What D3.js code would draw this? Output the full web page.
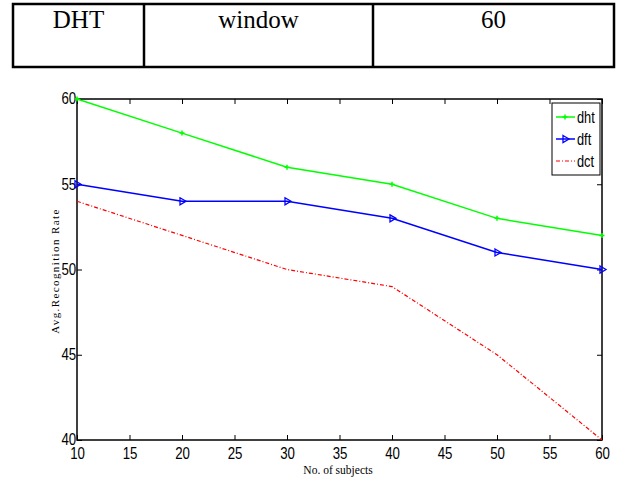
<!DOCTYPE html>
<html>
<head>
<meta charset="utf-8">
<script src="https://cdn.jsdelivr.net/npm/d3@7"></script>
<style>
  body { margin: 0; background: #fff; }
  svg { display: block; }
</style>
</head>
<body>
<svg id="chart" width="624" height="483"></svg>
<script>
// table row above the chart
let tableCells = ["DHT", "window", "60"]

// chart data
let subjects = [10, 20, 30, 40, 50, 60]
let dhtValues = [60, 58, 56, 55, 53, 52]
let dftValues = [55, 54, 54, 53, 51, 50]
let dctValues = [54, 52, 50, 49, 45, 40]
let xTicks = [10, 15, 20, 25, 30, 35, 40, 45, 50, 55, 60]
let yTicks = [40, 45, 50, 55, 60]
let seriesNames = ["dht", "dft", "dct"]

let svg = d3.select("#chart")
let serifFont = "Liberation Serif, DejaVu Serif, Times New Roman, serif"
let tickFont = "Liberation Sans, Arial, sans-serif"

/* table */
let colEdges = [13, 144, 373, 614]
let table = svg.append("g")
table.append("rect")
     .attr("x", colEdges[0]).attr("y", 4)
     .attr("width", colEdges[3] - colEdges[0]).attr("height", 63)
     .attr("fill", "none").attr("stroke", "#000").attr("stroke-width", 2.5)
table.selectAll("line.div")
     .data(colEdges.slice(1, 3))
     .enter().append("line")
     .attr("x1", d => d).attr("x2", d => d)
     .attr("y1", 4).attr("y2", 67)
     .attr("stroke", "#000").attr("stroke-width", 2.5)
table.selectAll("text")
     .data(tableCells)
     .enter().append("text")
     .attr("x", (d, i) => (colEdges[i] + colEdges[i + 1]) / 2)
     .attr("y", 28)
     .attr("text-anchor", "middle")
     .attr("font-family", serifFont)
     .attr("font-size", 25)
     .text(d => d)

/* plot */
let plotL = 77, plotR = 602, plotT = 99, plotB = 440
let x = d3.scaleLinear().domain([10, 60]).range([plotL, plotR])
let y = d3.scaleLinear().domain([40, 60]).range([plotB, plotT])

// box
svg.append("rect")
   .attr("x", plotL).attr("y", plotT)
   .attr("width", plotR - plotL).attr("height", plotB - plotT)
   .attr("fill", "none").attr("stroke", "#000").attr("stroke-width", 1.5)

let xAxis = svg.append("g")
               .attr("transform", `translate(0,${plotB})`)
               .call(d3.axisBottom(x).tickValues(xTicks).tickSizeInner(-5).tickSizeOuter(0).tickPadding(7))
let xAxisTop = svg.append("g")
                  .attr("transform", `translate(0,${plotT})`)
                  .call(d3.axisTop(x).tickValues(xTicks).tickSizeInner(-5).tickSizeOuter(0).tickFormat(""))
let yAxis = svg.append("g")
               .attr("transform", `translate(${plotL},0)`)
               .call(d3.axisLeft(y).tickValues(yTicks).tickSizeInner(-5).tickSizeOuter(0).tickPadding(1))
let yAxisRight = svg.append("g")
                    .attr("transform", `translate(${plotR},0)`)
                    .call(d3.axisRight(y).tickValues(yTicks).tickSizeInner(-5).tickSizeOuter(0).tickFormat(""))

svg.selectAll(".domain").remove()
svg.selectAll(".tick line").attr("stroke", "#000").attr("stroke-width", 1)
svg.selectAll(".tick text")
   .attr("font-family", tickFont)
   .attr("font-size", 17)
   .attr("fill", "#000")
   .attr("transform", "scale(0.78,1)")
yAxis.selectAll(".tick text").attr("dy", "0.28em")

// axis titles
svg.append("text")
   .attr("x", 338).attr("y", 474)
   .attr("text-anchor", "middle")
   .attr("font-family", serifFont)
   .attr("font-size", 11.5)
   .text("No. of subjects")
svg.append("text")
   .attr("transform", "translate(59,271) rotate(-90)")
   .attr("text-anchor", "middle")
   .attr("font-family", serifFont)
   .attr("font-size", 11)
   .attr("letter-spacing", 1.4)
   .text("Avg.Recognition Rate")

/* series */
let series = [
    {name: seriesNames[0], values: dhtValues, color: "#00ff00", dash: null, width: 1.5, marker: "plus"},
    {name: seriesNames[1], values: dftValues, color: "#0000ff", dash: null, width: 1.5, marker: "tri"},
    {name: seriesNames[2], values: dctValues, color: "#ff0000", dash: "4,2,1,2", width: 1.2, marker: null}
]

let line = d3.line()
             .x(d => x(d.s))
             .y(d => y(d.v))

function drawMarker(g, type, color, cx, cy) {
    if (type === "plus") {
        g.append("path")
         .attr("d", `M${cx - 2.5},${cy}H${cx + 2.5}M${cx},${cy - 2.5}V${cy + 2.5}`)
         .attr("stroke", color).attr("stroke-width", 1.5)
    } else if (type === "tri") {
        g.append("path")
         .attr("d", `M${cx - 2},${cy - 3.5}L${cx + 4},${cy}L${cx - 2},${cy + 3.5}Z`)
         .attr("fill", "none").attr("stroke", color).attr("stroke-width", 1.3)
    }
}

let plot = svg.append("g")
series.forEach(function(s) {
    let pts = subjects.map(function(sub, i) { return {s: sub, v: s.values[i]} })
    plot.append("path")
        .datum(pts)
        .attr("d", line)
        .attr("fill", "none")
        .attr("stroke", s.color)
        .attr("stroke-width", s.width)
        .attr("stroke-dasharray", s.dash)
    if (s.marker) {
        pts.forEach(function(p) {
            drawMarker(plot, s.marker, s.color, x(p.s), y(p.v))
        })
    }
})

/* legend */
let legend = svg.append("g")
legend.append("rect")
      .attr("x", 552).attr("y", 103)
      .attr("width", 48).attr("height", 72)
      .attr("fill", "#fff").attr("stroke", "#000").attr("stroke-width", 1)
series.forEach(function(s, i) {
    let ly = 117 + i * 22
    legend.append("line")
          .attr("x1", 556).attr("x2", 575)
          .attr("y1", ly).attr("y2", ly)
          .attr("stroke", s.color).attr("stroke-width", s.width)
          .attr("stroke-dasharray", s.dash)
    if (s.marker) drawMarker(legend, s.marker, s.color, 565, ly)
    legend.append("text")
          .attr("transform", `translate(577,${ly}) scale(0.8,1)`)
          .attr("dy", "0.35em")
          .attr("font-family", tickFont)
          .attr("font-size", 16)
          .text(s.name)
})
</script>
</body>
</html>
